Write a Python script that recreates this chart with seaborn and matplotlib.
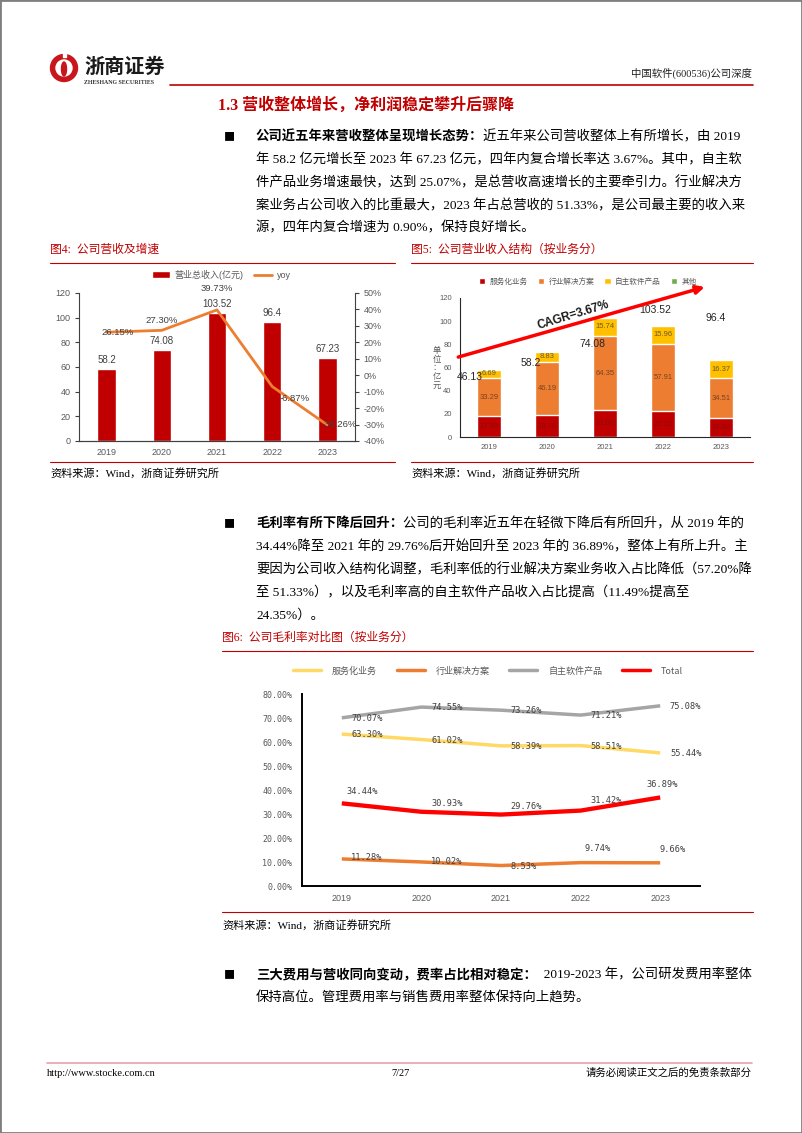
import numpy as np
import matplotlib
matplotlib.use('Agg')
import matplotlib.pyplot as plt
import seaborn as sns
from matplotlib.patches import Patch, Rectangle, Circle, Ellipse
from matplotlib.lines import Line2D
from matplotlib.font_manager import FontProperties

# ---------------- data ----------------
years = ['2019', '2020', '2021', '2022', '2023']

# Fig 4
revenue = [58.2, 74.08, 103.52, 96.4, 67.23]
yoy_pct = [26.15, 27.30, 39.73, -6.87, -30.26]
fig4_legend = ['营业总收入(亿元)', 'yoy']

# Fig 5
seg_names = ['服务化业务', '行业解决方案', '自主软件产品', '其他']
seg_service = [17.80, 18.70, 23.00, 22.20, 16.00]
seg_solution = [33.29, 46.19, 64.35, 57.91, 34.51]
seg_product = [6.69, 8.83, 15.74, 15.96, 16.37]
seg_other = [0.42, 0.36, 0.43, 0.33, 0.35]
fig5_total_labels = ['46.13', '58.2', '74.08', '103.52', '96.4']
cagr_label = 'CAGR=3.67%'

# Fig 6
margin_names = ['服务化业务', '行业解决方案', '自主软件产品', 'Total']
margin_service = [63.30, 61.02, 58.39, 58.51, 55.44]
margin_solution = [11.28, 10.02, 8.53, 9.74, 9.66]
margin_product = [70.07, 74.55, 73.26, 71.21, 75.08]
margin_total = [34.44, 30.93, 29.76, 31.42, 36.89]

# ---------------- style ----------------
sns.set_style('white')
SERIF = ['Liberation Serif', 'Noto Sans CJK SC']
SANS = ['Liberation Sans', 'Noto Sans CJK SC']
CJK = ['Noto Sans CJK SC', 'DejaVu Sans']
MONO = ['DejaVu Sans Mono', 'Noto Sans CJK SC']
plt.rcParams['font.family'] = SANS
plt.rcParams['axes.unicode_minus'] = False

C_RED = '#C00000'
C_ORANGE = '#ED7D31'
C_YELLOW = '#FFC000'
C_GREEN = '#70AD47'
C_GREY = '#595959'

W, H = 802, 1133
fig = plt.figure(figsize=(W / 100, H / 100), dpi=100)
fig.patch.set_facecolor('white')
renderer = fig.canvas.get_renderer()


def fx(x):
    return x / W


def fy(y):
    return 1 - y / H


def add_ax(x0, y0, x1, y1):
    return fig.add_axes([x0 / W, 1 - y1 / H, (x1 - x0) / W, (y1 - y0) / H])


def hline(x0, x1, y, color=C_RED, lw=0.8):
    fig.add_artist(Line2D([fx(x0), fx(x1)], [fy(y), fy(y)], color=color, lw=lw,
                          transform=fig.transFigure))


def ftext(x, y, s, **kw):
    kw.setdefault('va', 'center')
    return fig.text(fx(x), fy(y), s, **kw)


def seg_line(x, y, segs, size=9.6):
    for s, weight in segs:
        t = ftext(x, y, s, fontsize=size, family=SERIF, weight=weight, color='black')
        x += t.get_window_extent(renderer=renderer).width


# page border
fig.add_artist(Rectangle((0, 0), 1, 1, transform=fig.transFigure, fill=False,
                         edgecolor='#7f7f7f', lw=2))

# ---------------- header ----------------
axl = add_ax(48, 52, 80, 84)
axl.set_xlim(0, 32)
axl.set_ylim(0, 32)
axl.set_aspect('equal')
axl.axis('off')
axl.add_patch(Circle((16, 16), 13.5, color='#C8161D'))
axl.add_patch(Circle((16, 16), 8, color='white'))
axl.add_patch(Ellipse((16, 15), 5, 14, color='#C8161D'))
axl.add_patch(Rectangle((14.5, 27), 3, 6, color='white'))

ftext(84, 66, '浙商证券', fontsize=14.5, weight='bold', family=CJK, color='#1a1a1a')
ftext(84, 83, 'ZHESHANG SECURITIES', fontsize=4.2, family=SERIF, weight='bold', color='#333333')
ftext(752, 73, '中国软件(600536)公司深度', ha='right', fontsize=7.5, family=SERIF, color='#222222')
hline(170, 753, 85, color=C_RED, lw=1.2)

ftext(218, 106, '1.3 营收整体增长，净利润稳定攀升后骤降', fontsize=11.5, weight='bold',
      family=SERIF, color=C_RED)

# ---------------- paragraph 1 ----------------
ftext(229, 137, '■', fontsize=8, family=CJK, color='black', ha='center')
seg_line(256, 137, [('公司近五年来营收整体呈现增长态势：', 'bold'),
                    ('近五年来公司营收整体上有所增长，由 2019', 'normal')])
p1 = ['年 58.2 亿元增长至 2023 年 67.23 亿元，四年内复合增长率达 3.67%。其中，自主软',
      '件产品业务增速最快，达到 25.07%，是总营收高速增长的主要牵引力。行业解决方',
      '案业务占公司收入的比重最大，2023 年占总营收的 51.33%，是公司最主要的收入来',
      '源，四年内复合增速为 0.90%，保持良好增长。']
for k, line in enumerate(p1):
    seg_line(256, 160 + 22.7 * k, [(line, 'normal')])

# ---------------- captions fig4 / fig5 ----------------
ftext(50, 250, '图4:  公司营收及增速', fontsize=8.5, family=SERIF, color=C_RED)
hline(50, 395, 263)
ftext(411, 250, '图5:  公司营业收入结构（按业务分）', fontsize=8.5, family=SERIF, color=C_RED)
hline(411, 753, 263)
hline(50, 395, 462)
hline(411, 753, 462)
ftext(50, 473, '资料来源：Wind，浙商证券研究所', fontsize=8, family=SERIF, color='black')
ftext(411, 473, '资料来源：Wind，浙商证券研究所', fontsize=8, family=SERIF, color='black')

# ---------------- Fig 4 ----------------
ax4 = add_ax(79, 293, 355, 441)
sns.barplot(x=years, y=revenue, color=C_RED, saturation=1, width=0.33, ax=ax4)
ax4r = ax4.twinx()
sns.lineplot(x=years, y=yoy_pct, color=C_ORANGE, lw=2, ax=ax4r, sort=False)
ax4.set_ylim(0, 120)
ax4.set_yticks(range(0, 121, 20))
ax4r.set_ylim(-40, 50)
ax4r.set_yticks(range(-40, 51, 10))
ax4r.set_yticklabels([f'{v}%' for v in range(-40, 51, 10)])
ax4.set_xlim(-0.5, 4.5)
for a in (ax4, ax4r):
    a.set_xlabel('')
    a.set_ylabel('')
    for s in a.spines.values():
        s.set_color('#404040')
        s.set_linewidth(0.8)
    a.spines['top'].set_visible(False)
    a.tick_params(axis='y', length=3, width=0.8, color='#404040', labelsize=6.5,
                  labelcolor=C_GREY, pad=3)
    a.tick_params(axis='x', length=0, labelsize=6.5, labelcolor=C_GREY, pad=5)
ax4.spines['right'].set_visible(False)
ax4r.spines['left'].set_visible(False)
for i, v in enumerate(revenue):
    ax4.annotate(f'{v:g}', xy=(i, v), xytext=(0, 4), textcoords='offset pixels',
                 ha='center', va='bottom', fontsize=7, color='#404040')
yoy_off = [(11, 0), (0, 10), (0, 21), (22, -12), (12, 0)]
for i, v in enumerate(yoy_pct):
    ax4r.annotate(f'{v:.2f}%', xy=(i, v), xytext=yoy_off[i], textcoords='offset pixels',
                  ha='center', va='center', fontsize=6.8, color='#404040',
                  annotation_clip=False)
h4 = [Patch(facecolor=C_RED), Line2D([], [], color=C_ORANGE, lw=2)]
fig.legend(h4, fig4_legend, loc='center', bbox_to_anchor=(fx(221), fy(275)), ncol=2,
           frameon=False, fontsize=6.5, labelcolor=C_GREY, handlelength=2.0,
           handleheight=0.8, columnspacing=1.2, handletextpad=0.5)

# ---------------- Fig 5 ----------------
ax5 = add_ax(460, 298, 750, 437)
c1 = np.array(seg_service)
c2 = c1 + np.array(seg_solution)
c3 = c2 + np.array(seg_product)
c4 = c3 + np.array(seg_other)
for cum, col in [(c4, C_GREEN), (c3, C_YELLOW), (c2, C_ORANGE), (c1, C_RED)]:
    sns.barplot(x=years, y=cum, color=col, saturation=1, width=0.4, ax=ax5)
ax5.set_ylim(0, 120)
ax5.set_xlim(-0.5, 4.5)
ax5.set_yticks(range(0, 121, 20))
ax5.set_xlabel('')
ax5.set_ylabel('')
for s in ['top', 'right']:
    ax5.spines[s].set_visible(False)
for s in ['left', 'bottom']:
    ax5.spines[s].set_color('#262626')
    ax5.spines[s].set_linewidth(0.8)
ax5.tick_params(axis='y', length=3, width=0.8, color='#262626', labelsize=5.5,
                labelcolor=C_GREY, pad=3)
ax5.tick_params(axis='x', length=0, labelsize=5.5, labelcolor=C_GREY, pad=5)
for i in range(len(years)):
    ax5.text(i, seg_service[i] / 2, f'{seg_service[i]:.2f}', ha='center', va='center',
             fontsize=5.5, color='#8E0B0B')
    ax5.text(i, c1[i] + seg_solution[i] / 2, f'{seg_solution[i]:.2f}', ha='center',
             va='center', fontsize=5.5, color='#7A4420')
    ax5.text(i, c2[i] + seg_product[i] / 2, f'{seg_product[i]:.2f}', ha='center',
             va='center', fontsize=5.5, color='#6E5A20')
lab_dx = [-0.34, -0.28, -0.21, -0.14, -0.10]
for i, s in enumerate(fig5_total_labels):
    ax5.text(i + lab_dx[i], float(s) + 6, s, ha='center', va='center', fontsize=7.5,
             color='#262626')
ax5.annotate('', xy=(3.72, 129.5), xytext=(-0.53, 69),
             arrowprops=dict(arrowstyle='-|>', color='#FF0000', lw=2.5, mutation_scale=12,
                             shrinkA=0, shrinkB=0), annotation_clip=False)
ax5.text(1.45, 105, cagr_label, rotation=17, ha='center', va='center', fontsize=8.5,
         weight='bold', color='#1a1a1a', family=SANS)
ftext(437, 368, '单\n位\n：\n亿\n元', fontsize=6, family=CJK, color=C_GREY, ha='center',
      linespacing=0.95)
h5 = [Patch(facecolor=c) for c in [C_RED, C_ORANGE, C_YELLOW, C_GREEN]]
fig.legend(h5, seg_names, loc='center', bbox_to_anchor=(fx(588), fy(282)), ncol=4,
           frameon=False, prop=FontProperties(family=CJK, size=5.5), labelcolor=C_GREY,
           handlelength=0.8, handleheight=0.8, columnspacing=1.3, handletextpad=0.6)

# ---------------- paragraph 2 ----------------
ftext(229, 524, '■', fontsize=8, family=CJK, color='black', ha='center')
seg_line(256, 524, [('毛利率有所下降后回升：', 'bold'),
                    ('公司的毛利率近五年在轻微下降后有所回升，从 2019 年的', 'normal')])
p2 = ['34.44%降至 2021 年的 29.76%后开始回升至 2023 年的 36.89%，整体上有所上升。主',
      '要因为公司收入结构化调整，毛利率低的行业解决方案业务收入占比降低（57.20%降',
      '至 51.33%），以及毛利率高的自主软件产品收入占比提高（11.49%提高至',
      '24.35%）。']
for k, line in enumerate(p2):
    seg_line(256, 547 + 22.7 * k, [(line, 'normal')])

# ---------------- Fig 6 ----------------
ftext(222, 638, '图6:  公司毛利率对比图（按业务分）', fontsize=8.5, family=SERIF, color=C_RED)
hline(222, 753, 651)
ax6 = add_ax(302, 694, 700, 886)
xpos = np.arange(len(years))
m_series = [margin_product, margin_service, margin_total, margin_solution]
m_colors = ['#A5A5A5', '#FFD966', '#FF0000', C_ORANGE]
m_lw = [2.5, 2.5, 3.1, 2.5]
for vals, col, lw in zip(m_series, m_colors, m_lw):
    sns.lineplot(x=xpos, y=vals, color=col, lw=lw, ax=ax6, solid_capstyle='butt')
ax6.set_xlim(-0.5, 4.5)
ax6.set_ylim(0, 80)
ax6.set_yticks(range(0, 81, 10))
ax6.set_yticklabels([f'{v:.2f}%' for v in range(0, 81, 10)], family=MONO)
ax6.set_xticks(xpos)
ax6.set_xticklabels(years)
ax6.set_xlabel('')
ax6.set_ylabel('')
for s in ['top', 'right']:
    ax6.spines[s].set_visible(False)
for s in ['left', 'bottom']:
    ax6.spines[s].set_color('black')
    ax6.spines[s].set_linewidth(1.4)
ax6.tick_params(axis='y', length=3, width=1.2, color='black', labelsize=6,
                labelcolor=C_GREY, pad=4)
ax6.tick_params(axis='x', length=0, labelsize=6.5, labelcolor=C_GREY, pad=6)
off_product = [(0.32, -0.2)] * 5
off_service = [(0.32, -0.2)] * 5
off_total = [(0.26, 4.8), (0.32, 3.3), (0.32, 3.5), (0.32, 4.4), (0.03, 5.6)]
off_solution = [(0.31, 0.4), (0.32, 0.0), (0.29, -0.2), (0.22, 5.7), (0.15, 5.7)]
for vals, offs in [(margin_product, off_product), (margin_service, off_service),
                   (margin_total, off_total), (margin_solution, off_solution)]:
    for i, v in enumerate(vals):
        ax6.text(i + offs[i][0], v + offs[i][1], f'{v:.2f}%', ha='center', va='center',
                 fontsize=6.2, family=MONO, color='#404040')
h6 = [Line2D([], [], color=c, lw=2.5) for c in m_colors]
fig.legend([h6[1], h6[3], h6[0], h6[2]], margin_names, loc='center',
           bbox_to_anchor=(fx(488), fy(671)), ncol=4, frameon=False,
           prop=FontProperties(family=CJK, size=6.5), labelcolor=C_GREY,
           handlelength=3.1, columnspacing=2.2, handletextpad=1.2)
hline(222, 753, 912)
ftext(222, 925, '资料来源：Wind，浙商证券研究所', fontsize=8, family=SERIF, color='black')

# ---------------- paragraph 3 ----------------
ftext(229, 975, '■', fontsize=8, family=CJK, color='black', ha='center')
seg_line(256, 975, [('三大费用与营收同向变动，费率占比相对稳定：', 'bold'),
                    ('  2019-2023 年，公司研发费用率整体', 'normal')])
seg_line(256, 998, [('保持高位。管理费用率与销售费用率整体保持向上趋势。', 'normal')])

# ---------------- footer ----------------
hline(47, 752, 1063, color='#E8A0A8', lw=1.2)
ftext(47, 1073, 'http://www.stocke.com.cn', fontsize=7.5, family=SERIF, color='black')
ftext(401, 1073, '7/27', fontsize=7.5, family=SERIF, color='black', ha='center')
ftext(752, 1073, '请务必阅读正文之后的免责条款部分', fontsize=7.5, family=SERIF,
      color='black', ha='right')

fig.savefig('out.png', dpi=100, facecolor='white')
